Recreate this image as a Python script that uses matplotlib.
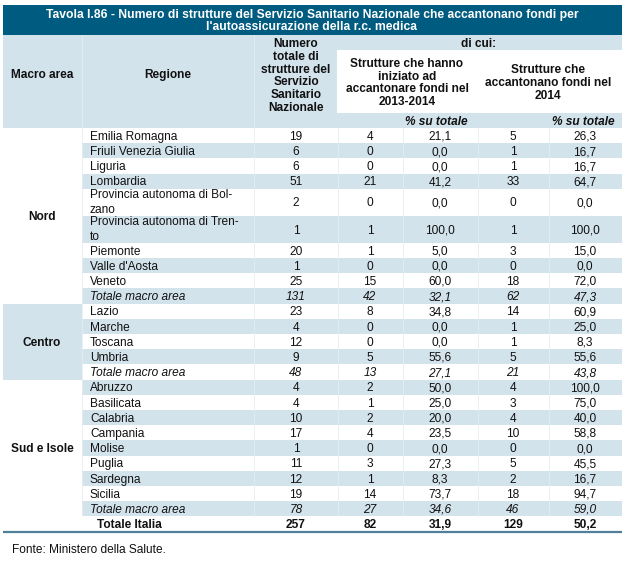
import matplotlib
matplotlib.use("Agg")
import matplotlib.pyplot as plt
from matplotlib.patches import Rectangle

plt.rcParams["font.family"] = ["Liberation Sans", "DejaVu Sans"]

# --- data ---
titolo = ("Tavola I.86 - Numero di strutture del Servizio Sanitario Nazionale che accantonano fondi per\n"
          "l'autoassicurazione della r.c. medica")
macro_aree = ["Nord", "Centro", "Sud e Isole"]
righe_per_area = [10, 5, 9]
regioni = [
    "Emilia Romagna", "Friuli Venezia Giulia", "Liguria", "Lombardia",
    "Provincia autonoma di Bol-\nzano", "Provincia autonoma di Tren-\nto",
    "Piemonte", "Valle d'Aosta", "Veneto", "Totale macro area",
    "Lazio", "Marche", "Toscana", "Umbria", "Totale macro area",
    "Abruzzo", "Basilicata", "Calabria", "Campania", "Molise", "Puglia",
    "Sardegna", "Sicilia", "Totale macro area",
]
numero_totale = [19, 6, 6, 51, 2, 1, 20, 1, 25, 131,
                 23, 4, 12, 9, 48,
                 4, 4, 10, 17, 1, 11, 12, 19, 78]
avviate = [4, 0, 0, 21, 0, 1, 1, 0, 15, 42,
           8, 0, 0, 5, 13,
           2, 1, 2, 4, 0, 3, 1, 14, 27]
pct_avviate = [21.1, 0.0, 0.0, 41.2, 0.0, 100.0, 5.0, 0.0, 60.0, 32.1,
               34.8, 0.0, 0.0, 55.6, 27.1,
               50.0, 25.0, 20.0, 23.5, 0.0, 27.3, 8.3, 73.7, 34.6]
accantonano = [5, 1, 1, 33, 0, 1, 3, 0, 18, 62,
               14, 1, 1, 5, 21,
               4, 3, 4, 10, 0, 5, 2, 18, 46]
pct_accantonano = [26.3, 16.7, 16.7, 64.7, 0.0, 100.0, 15.0, 0.0, 72.0, 47.3,
                   60.9, 25.0, 8.3, 55.6, 43.8,
                   100.0, 75.0, 40.0, 58.8, 0.0, 45.5, 16.7, 94.7, 59.0]
totale_italia = [257, 82, 31.9, 129, 50.2]
fonte = "Fonte: Ministero della Salute."

# --- layout (pixels) ---
DARK = "#005b80"
LIGHT = "#d3e3ec"
SEP = "#e4eef3"
TXT = "#111111"
FS = 8.6
X0, X1 = 3, 622
cols = [3, 82, 254, 338, 403, 478, 549, 622]
H1, H2 = 15.2, 27.0
BL = 4.2  # baseline offset below row centre


def fmt(v):
    return f"{v:.1f}".replace(".", ",")


fig = plt.figure(figsize=(6.28, 5.61), dpi=100)
ax = fig.add_axes([0, 0, 1, 1])
ax.set_xlim(0, 628)
ax.set_ylim(561, 0)
ax.axis("off")

# title band
ax.add_patch(Rectangle((X0, 5), X1 - X0, 30, color=DARK, lw=0))
ax.text(312, 21, titolo, ha="center", va="center", color="white",
        fontsize=8.7, fontweight="bold", linespacing=1.1)

# header
ax.add_patch(Rectangle((X0, 35), X1 - X0, 93, color=LIGHT, lw=0))
ax.add_patch(Rectangle((337, 50), X1 - 337, 63, color="white", lw=0))
for xc in cols[1:3]:
    ax.plot([xc, xc], [35, 128], color=SEP, lw=0.6)
hb = dict(ha="center", va="center", fontsize=FS, fontweight="bold", color=TXT)
ax.text(42, 75, "Macro area", **hb)
ax.text(168, 75, "Regione", **hb)
ax.text(296, 76, "Numero\ntotale di\nstrutture del\nServizio\nSanitario\nNazionale",
        linespacing=1.1, **hb)
ax.text(479, 44, "di cui:", **hb)
ax.text(407, 83, "Strutture che hanno\niniziato ad\naccantonare fondi nel\n2013-2014",
        linespacing=1.1, **hb)
ax.text(548, 83, "Strutture che\naccantonano fondi nel\n2014", linespacing=1.1, **hb)
for xr in (468, 615):
    ax.text(xr, 121 + BL, "% su totale", ha="right", va="baseline", fontsize=FS,
            fontweight="bold", fontstyle="italic", color=TXT)

# body rows
y = 128.0
centri = [296, 370, 440, 513, 585]
tops = []
for i, reg in enumerate(regioni):
    h = H2 if "\n" in reg else H1
    tops.append((y, h))
    if i % 2 == 1:
        ax.add_patch(Rectangle((82, y), X1 - 82, h, color=LIGHT, lw=0))
    y += h

# macro area cells
k = 0
for j, (area, n) in enumerate(zip(macro_aree, righe_per_area)):
    top = tops[k][0]
    bot = tops[k + n - 1][0] + tops[k + n - 1][1]
    if j == 1:
        ax.add_patch(Rectangle((X0, top), 82 - X0, bot - top, color=LIGHT, lw=0))
    ax.text(42, (top + bot) / 2 + BL, area, ha="center", va="baseline",
            fontsize=FS, fontweight="bold", color=TXT)
    k += n

for xc in cols[1:-1]:
    ax.plot([xc, xc], [128, y], color=SEP, lw=0.6)

for i, reg in enumerate(regioni):
    top, h = tops[i]
    yc = top + h / 2
    style = "italic" if reg.startswith("Totale") else "normal"
    if "\n" in reg:
        ax.text(90, yc, reg, ha="left", va="center", fontsize=FS, color=TXT,
                fontstyle=style, linespacing=1.37)
    else:
        ax.text(90, yc + BL, reg, ha="left", va="baseline", fontsize=FS,
                color=TXT, fontstyle=style)
    vals = [str(numero_totale[i]), str(avviate[i]), fmt(pct_avviate[i]),
            str(accantonano[i]), fmt(pct_accantonano[i])]
    for xc, v in zip(centri, vals):
        ax.text(xc, yc + BL, v, ha="center", va="baseline", fontsize=FS,
                color=TXT, fontstyle=style)

# totale Italia
yc = y + H1 / 2
ax.text(97, yc + BL, "Totale Italia", ha="left", va="baseline", fontsize=FS,
        fontweight="bold", color=TXT)
vals = [str(totale_italia[0]), str(totale_italia[1]), fmt(totale_italia[2]),
        str(totale_italia[3]), fmt(totale_italia[4])]
for xc, v in zip(centri, vals):
    ax.text(xc, yc + BL, v, ha="center", va="baseline", fontsize=FS,
            fontweight="bold", color=TXT)
y += H1
ax.plot([X0, X1], [y + 0.8, y + 0.8], color="#4f7f99", lw=1.6,
        solid_capstyle="butt")

ax.text(12, 549 + BL, fonte, ha="left", va="baseline", fontsize=FS, color=TXT)

fig.savefig("out.png", dpi=100)
